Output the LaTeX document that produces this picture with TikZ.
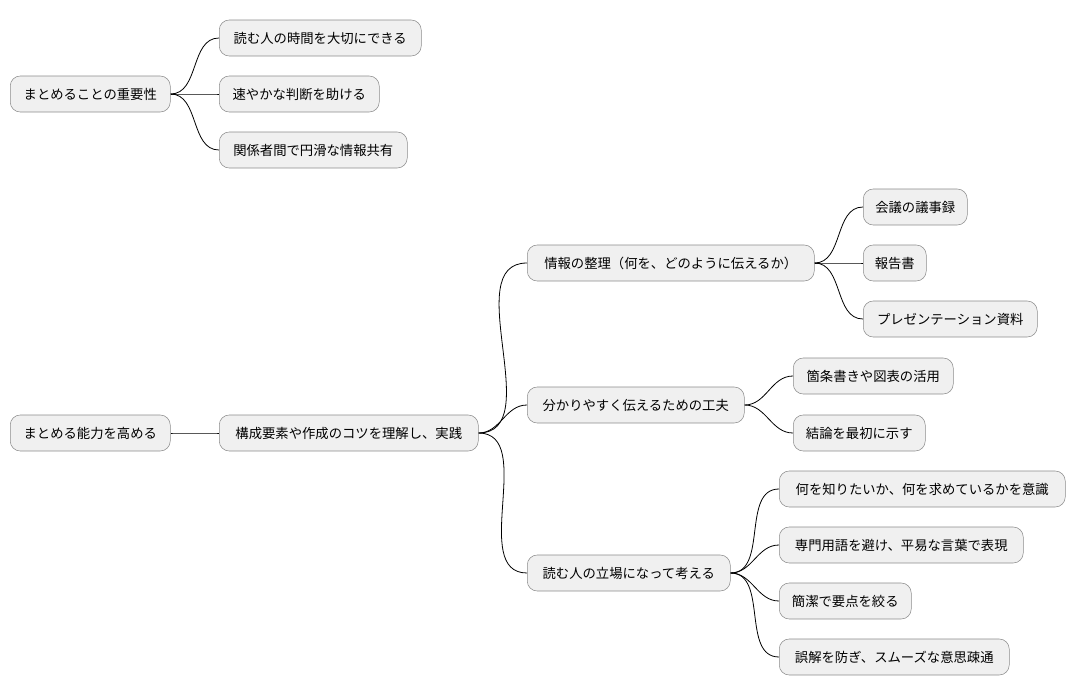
\documentclass[tikz,border=0pt]{standalone}
\usepackage{fontspec}
\setmainfont{Noto Sans CJK JP}
\begin{document}
\begin{tikzpicture}[x=0.75pt,y=-0.75pt,
  box/.style={draw=black!45,fill=black!6,rounded corners=7.5pt,minimum height=27pt,inner sep=0pt,anchor=west,font=\fontsize{10pt}{12pt}\selectfont},
  link/.style={draw=black,line width=0.6pt}]
\useasboundingbox (0,0) rectangle (1076,696);
\newcommand\mn[5]{\node[box,minimum width={(#3-#2)*0.75pt}] (#1) at (#2,#4) {#5};}
\mn{r1}{10}{170}{94}{まとめることの重要性}
\mn{a1}{219}{421}{38}{読む人の時間を大切にできる}
\mn{a2}{219}{379}{94}{速やかな判断を助ける}
\mn{a3}{219}{407}{150}{関係者間で円滑な情報共有}
\mn{r2}{10}{170}{433}{まとめる能力を高める}
\mn{b}{219}{478}{433}{構成要素や作成のコツを理解し、実践}
\mn{c1}{527}{814}{263}{情報の整理（何を、どのように伝えるか）}
\mn{d1}{863}{967}{207}{会議の議事録}
\mn{d2}{863}{926}{263}{報告書}
\mn{d3}{863}{1037}{319}{プレゼンテーション資料}
\mn{c2}{527}{744}{405}{分かりやすく伝えるための工夫}
\mn{e1}{793}{953}{376}{箇条書きや図表の活用}
\mn{e2}{793}{925}{433}{結論を最初に示す}
\mn{c3}{527}{730}{573}{読む人の立場になって考える}
\mn{f1}{779}{1065}{489}{何を知りたいか、何を求めているかを意識}
\mn{f2}{779}{1023}{545}{専門用語を避け、平易な言葉で表現}
\mn{f3}{779}{911}{601}{簡潔で要点を絞る}
\mn{f4}{779}{1009}{657}{誤解を防ぎ、スムーズな意思疎通}
\foreach \p/\c in {r1/a1,r1/a2,r1/a3,r2/b,b/c1,b/c2,b/c3,c1/d1,c1/d2,c1/d3,c2/e1,c2/e2,c3/f1,c3/f2,c3/f3,c3/f4}
  \draw[link] (\p.east) to[out=0,in=180] (\c.west);
\end{tikzpicture}
\end{document}
